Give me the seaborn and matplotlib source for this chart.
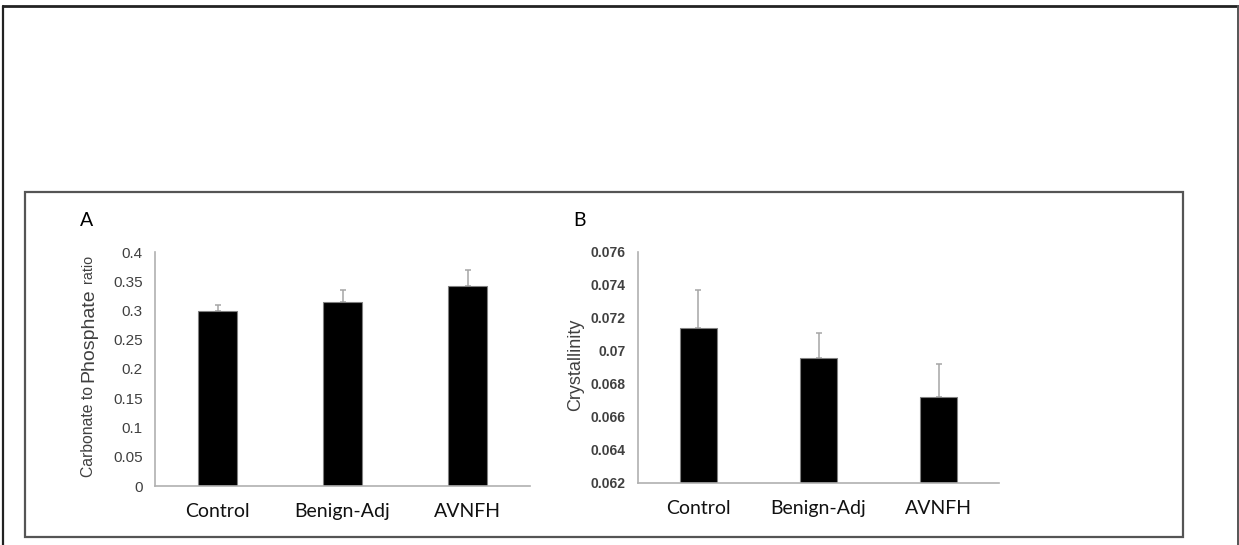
import numpy as np
import pandas as pd
import matplotlib
matplotlib.use("Agg")
import matplotlib.pyplot as plt
import seaborn as sns
from matplotlib.patches import Rectangle
from matplotlib.lines import Line2D
from matplotlib.ticker import FuncFormatter

sns.set_theme(style='white')
plt.rcParams['font.family'] = ['Liberation Sans', 'DejaVu Sans']

groups = ['Control', 'Benign-Adj', 'AVNFH']
ratio_mean = [0.300, 0.314, 0.342]
ratio_err = [0.009, 0.021, 0.027]
cryst_mean = [0.0714, 0.0696, 0.0672]
cryst_err = [0.0023, 0.0015, 0.0020]

df = pd.DataFrame({'Group': groups, 'Ratio': ratio_mean, 'Crystallinity': cryst_mean})

W, H = 1239, 545
fig = plt.figure(figsize=(W / 100, H / 100), dpi=100)
fig.patch.set_facecolor('white')

def px(x0, y0, x1, y1):
    # pixel box (top-left origin) -> figure fraction [left, bottom, width, height]
    return [x0 / W, 1 - y1 / H, (x1 - x0) / W, (y1 - y0) / H]

axA = fig.add_axes(px(155, 252, 530, 486))
axB = fig.add_axes(px(638, 252, 999, 483))

tick_grey = '#404040'
spine_grey = '#b0b0b0'

def style_axis(ax, col, mean, err, ylim, step, bold, ysize):
    sns.barplot(data=df, x='Group', y=col, color='black', width=0.31, saturation=1,
                errorbar=None, edgecolor='#808080', linewidth=0.8, ax=ax, zorder=2)
    ax.errorbar(range(len(groups)), mean, yerr=[np.zeros(len(err)), err], fmt='none',
                ecolor='#a6a6a6', elinewidth=1.1, capsize=2.5, capthick=1.1, zorder=1)
    ax.set_xlim(-0.5, 2.5)
    ax.set_ylim(*ylim)
    ax.set_yticks(np.arange(ylim[0], ylim[1] + step / 2, step))
    ax.yaxis.set_major_formatter(FuncFormatter(lambda v, p: f'{round(v, 4):g}'))
    ax.set_xlabel('')
    ax.set_ylabel('')
    for s in ['top', 'right']:
        ax.spines[s].set_visible(False)
    for s in ['left', 'bottom']:
        ax.spines[s].set_color(spine_grey)
        ax.spines[s].set_linewidth(1.2)
    ax.tick_params(axis='both', length=0)
    ax.tick_params(axis='y', pad=9, labelsize=ysize, labelcolor=tick_grey)
    ax.tick_params(axis='x', pad=12)
    for t in ax.get_yticklabels():
        if bold:
            t.set_fontweight('bold')
    for t in ax.get_xticklabels():
        t.set_fontfamily('Lato')
        t.set_fontsize(14)
        t.set_color('#111111')
    ax.set_facecolor('none')

style_axis(axA, 'Ratio', ratio_mean, ratio_err, (0, 0.4), 0.05, False, 11)
style_axis(axB, 'Crystallinity', cryst_mean, cryst_err, (0.062, 0.076), 0.002, True, 10)

# panel letters
fig.text(80 / W, 1 - 226 / H, 'A', fontsize=14, family='Lato', color='black')
fig.text(573 / W, 1 - 226 / H, 'B', fontsize=14, family='Lato', color='black')

# y label B
fig.text(576 / W, 1 - 365 / H, 'Crystallinity', rotation=90, fontsize=13,
         color=tick_grey, ha='center', va='center')

# y label A with larger "Phosphate"
fig.canvas.draw()
renderer = fig.canvas.get_renderer()
parts = [('Carbonate to ', 11.3), ('Phosphate', 14), (' ratio', 10.3)]
ybase = 477
for s, fs in parts:
    t = fig.text(93 / W, 1 - ybase / H, s, rotation=90, rotation_mode='anchor',
                 ha='left', va='baseline', fontsize=fs, color=tick_grey)
    bb = t.get_window_extent(renderer)
    ybase -= bb.height

# frames
fig.add_artist(Rectangle((25 / W, 1 - 537 / H), (1183 - 25) / W, (537 - 192) / H,
                         transform=fig.transFigure, fill=False, edgecolor='#555555', lw=1.6))
fig.add_artist(Line2D([3 / W, 3 / W], [0, 1 - 6 / H], transform=fig.transFigure, color='#222222', lw=1.6))
fig.add_artist(Line2D([3 / W, 1238 / W], [1 - 6 / H, 1 - 6 / H], transform=fig.transFigure, color='#222222', lw=2))
fig.add_artist(Line2D([1238 / W, 1238 / W], [0, 1 - 6 / H], transform=fig.transFigure, color='#555555', lw=1.4))

fig.savefig('out.png', dpi=100, facecolor='white')
